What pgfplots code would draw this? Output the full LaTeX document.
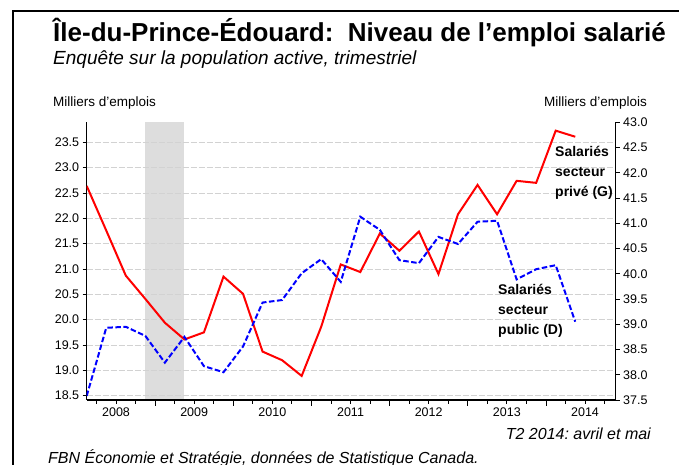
\documentclass[border=0pt]{standalone}
\usepackage{fontspec}
\setmainfont{Liberation Sans}
\usepackage{pgfplots}
\usepackage{pgfplotstable}
\pgfplotsset{compat=1.18}
\definecolor{bandc}{HTML}{DDDDDD}
\definecolor{gridc}{HTML}{D2D2D2}
\frenchspacing

\pgfplotstableread{
k priv pub
0 22.64 37.58
1 21.76 38.93
2 20.87 38.95
3 20.41 38.77
4 19.94 38.24
5 19.61 38.75
6 19.75 38.17
7 20.85 38.05
8 20.51 38.56
9 19.37 39.43
10 19.20 39.48
11 18.89 40.01
12 19.86 40.29
13 21.09 39.84
14 20.94 41.13
15 21.70 40.87
16 21.36 40.27
17 21.74 40.21
18 20.90 40.73
19 22.08 40.59
20 22.66 41.03
21 22.08 41.05
22 22.74 39.89
23 22.70 40.09
24 23.73 40.17
25 23.61 39.05
}\datatable

\pgfplotstableread{
x y
3 18.415
3 23.895
5 23.895
5 18.415
}\bandtable

\begin{document}
\begin{tikzpicture}
\path[use as bounding box] (0pt,0pt) rectangle (679pt,465pt);
\draw[line width=2pt] (13pt,-5pt) -- (13pt,454.3pt) -- (690pt,454.3pt);

\pgfplotsset{
  common/.style={
    scale only axis, width=529pt, height=277.7pt,
    at={(86.7pt,65pt)}, anchor=south west,
    xmin=0, xmax=27.07,
    axis line style={-, line width=1.2pt, black},
    tick align=outside,
    major tick length=4pt, minor tick length=4pt,
    tick style={black, line width=0.8pt},
    tick label style={font=\fontsize{12.5}{14}\selectfont},
    yticklabel style={/pgf/number format/.cd, fixed, fixed zerofill, precision=1, assume math mode=true},
  }
}

\begin{axis}[common, hide axis, ymin=18.415, ymax=23.895]
\addplot[fill=bandc, draw=none] table[x=x,y=y]{\bandtable} -- cycle;
\end{axis}

\begin{axis}[common,
  ymin=18.415, ymax=23.895,
  axis y line*=left, axis x line*=bottom,
  ytick={18.5,19,...,23.5},
  xtick={1.5,5.5,...,25.5},
  xticklabels={2008,2009,2010,2011,2012,2013,2014},
  minor xtick={0.5,1.5,...,26.5},
  extra x ticks={3.5,7.5,11.5,15.5,19.5,23.5},
  extra x tick labels={},
  extra x tick style={major tick length=6pt},
  ymajorgrids=true,
  major grid style={gridc, dash pattern=on 6pt off 2pt, line width=0.8pt},
]
\addplot[red, line width=2pt] table[x=k,y=priv]{\datatable};
\end{axis}

\begin{axis}[common,
  ymin=37.5, ymax=43,
  axis y line*=right, axis x line=none,
  ytick={37.5,38,...,43},
]
\addplot[blue, line width=2pt, dash pattern=on 5.5pt off 2.5pt] table[x=k,y=pub]{\datatable};
\end{axis}

\node[anchor=base west, inner sep=0, font={\fontsize{26}{30}\selectfont\bfseries}] at (53pt,423pt) {Île-du-Prince-Édouard:\ \ Niveau de l’emploi salarié};
\node[anchor=base west, inner sep=0, font={\fontsize{19}{22}\selectfont\itshape}] at (53pt,400pt) {Enquête sur la population active, trimestriel};
\node[anchor=base west, inner sep=0, font={\fontsize{13.5}{16}\selectfont}] at (53pt,358pt) {Milliers d’emplois};
\node[anchor=base east, inner sep=0, font={\fontsize{13.5}{16}\selectfont}] at (647pt,358pt) {Milliers d’emplois};

\begin{scope}[every node/.style={anchor=base west, inner sep=0, font={\fontsize{14}{16}\selectfont\bfseries}}]
\node at (555pt,308pt) {Salariés};
\node at (555pt,288pt) {secteur};
\node at (555pt,268pt) {privé (G)};
\node at (498pt,170pt) {Salariés};
\node at (498pt,150pt) {secteur};
\node at (498pt,130pt) {public (D)};
\end{scope}

\node[anchor=base east, inner sep=0, font={\fontsize{16}{19}\selectfont\itshape}] at (651pt,25pt) {T2 2014: avril et mai};
\node[anchor=base west, inner sep=0, font={\fontsize{16}{19}\selectfont\itshape}] at (48pt,1.5pt) {FBN Économie et Stratégie, données de Statistique Canada.};
\end{tikzpicture}
\end{document}
